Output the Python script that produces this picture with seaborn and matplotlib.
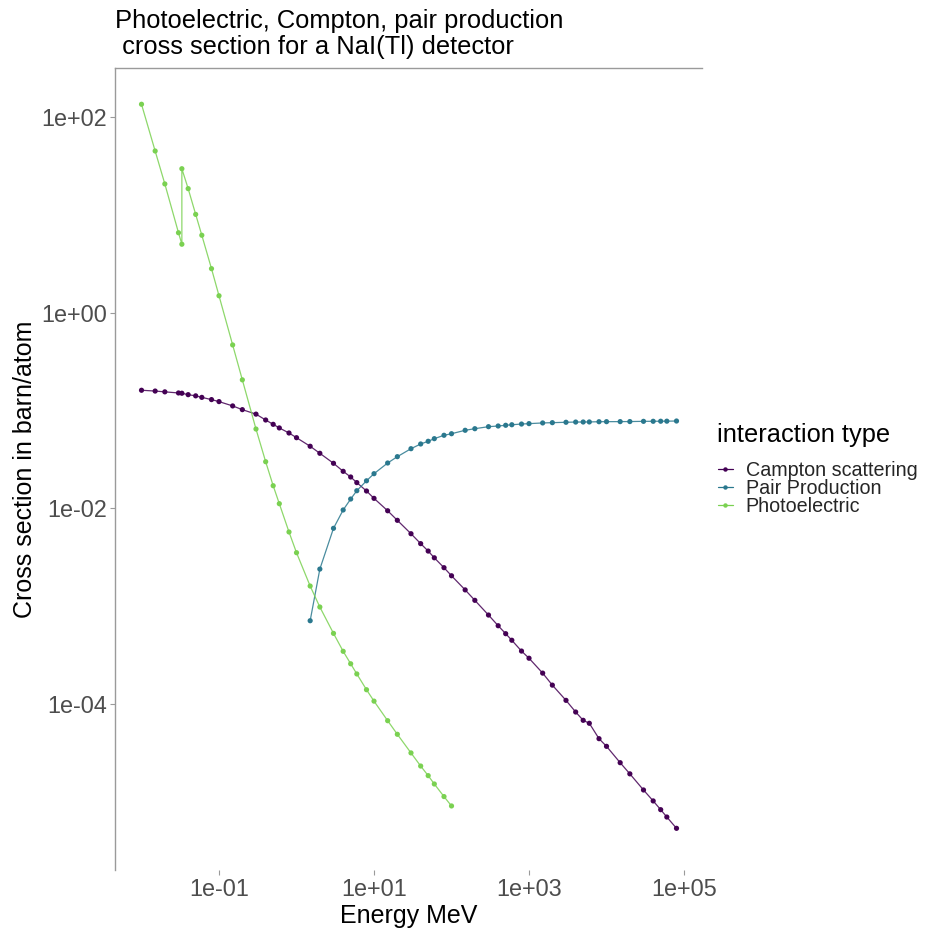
import numpy as np
import pandas as pd
import matplotlib
matplotlib.use("Agg")
import matplotlib.pyplot as plt
import seaborn as sns
from matplotlib.lines import Line2D
from matplotlib.ticker import NullLocator

# ---- data (energy in MeV, cross section) ----
photo_energy = [0.01, 0.015, 0.02, 0.03, 0.03317, 0.03317, 0.04, 0.05, 0.06, 0.08,
                0.1, 0.15, 0.2, 0.3, 0.4, 0.5, 0.6, 0.8, 1, 1.5, 2, 3, 4, 5, 6, 8,
                10, 15, 20, 30, 40, 50, 60, 80, 100]
photo_cross = [136.5, 45.4, 20.9, 6.62, 5.05, 29.9, 18.7, 10.2, 6.24, 2.84,
               1.50, 0.471, 0.207, 0.0650, 0.0301, 0.0171, 0.0112, 0.00575, 0.00353,
               0.00161, 0.000982, 0.000528, 0.000346, 0.000258, 0.000203, 0.000140,
               0.000107, 6.75e-5, 4.90e-5, 3.16e-5, 2.32e-5, 1.85e-5, 1.52e-5,
               1.13e-5, 9.06e-6]

compton_energy = [0.01, 0.015, 0.02, 0.03, 0.03317, 0.04, 0.05, 0.06, 0.08, 0.1,
                  0.15, 0.2, 0.3, 0.4, 0.5, 0.6, 0.8, 1, 1.5, 2, 3, 4, 5, 6, 8, 10,
                  15, 20, 30, 40, 50, 60, 80, 100, 150, 200, 300, 400, 500, 600, 800,
                  1000, 1500, 2000, 3000, 4000, 5000, 6000, 8000, 10000, 15000, 20000,
                  30000, 40000, 50000, 60000, 80000]
compton_cross = [0.162, 0.159, 0.156, 0.152, 0.151, 0.146, 0.142, 0.137, 0.130, 0.124,
                 0.112, 0.1026, 0.0923, 0.0804, 0.0726, 0.0667, 0.0592, 0.0530, 0.0433,
                 0.0367, 0.0290, 0.0240, 0.0210, 0.0184, 0.0151, 0.0127, 0.00948,
                 0.00757, 0.00552, 0.00437, 0.00367, 0.00313, 0.00248, 0.00205,
                 0.00147, 0.00115, 0.000813, 0.000632, 0.000524, 0.000449, 0.000348,
                 0.000294, 0.000207, 0.000156, 0.000109, 8.28e-5, 6.81e-5, 6.35e-5,
                 4.42e-5, 3.69e-5, 2.51e-5, 1.93e-5, 1.32e-5, 1.02e-5, 8.30e-6,
                 6.98e-6, 5.35e-6]

pair_energy = [1.5, 2, 3, 4, 5, 6, 8, 10, 15, 20, 30, 40, 50, 60, 80, 100, 150, 200,
               300, 400, 500, 600, 800, 1000, 1500, 2000, 3000, 4000, 5000, 6000, 8000,
               10000, 15000, 20000, 30000, 40000, 50000, 60000, 80000]
pair_cross = [7.11e-4, 2.40e-3, 6.27e-3, 9.66e-3, 0.0125, 0.0152, 0.0192, 0.0227,
              0.0292, 0.0339, 0.0409, 0.0457, 0.0487, 0.0518, 0.0561, 0.0582, 0.0631,
              0.0655, 0.0687, 0.0698, 0.0710, 0.0719, 0.0731, 0.0738, 0.0750, 0.0755,
              0.0762, 0.0766, 0.0767, 0.0768, 0.0772, 0.0773, 0.0774, 0.0775, 0.0779,
              0.0780, 0.0781, 0.0782, 0.0785]

types = ["Campton scattering", "Pair Production", "Photoelectric"]
colors = ["#440154", "#2A788E", "#7AD151"]

df = pd.concat([
    pd.DataFrame({"energy": compton_energy, "cross": compton_cross, "type": types[0]}),
    pd.DataFrame({"energy": pair_energy, "cross": pair_cross, "type": types[1]}),
    pd.DataFrame({"energy": photo_energy, "cross": photo_cross, "type": types[2]}),
], ignore_index=True)

sns.set_style("white")
plt.rcParams["font.family"] = ["Liberation Sans", "DejaVu Sans"]

W, H = 927, 931
fig = plt.figure(figsize=(W / 100, H / 100), dpi=100)
L, R, T, B = 115, 702, 68, 870
ax = fig.add_axes([L / W, 1 - B / H, (R - L) / W, (B - T) / H])

palette = dict(zip(types, colors))
sns.lineplot(data=df, x="energy", y="cross", hue="type", palette=palette,
             sort=False, estimator=None, lw=0.9, alpha=0.85, legend=False, ax=ax)
sns.scatterplot(data=df, x="energy", y="cross", hue="type", palette=palette,
                s=14, linewidth=0, legend=False, ax=ax, zorder=3)

ax.set_xscale("log")
ax.set_yscale("log")
ax.set_xlim(10 ** -2.342, 10 ** 5.232)
ax.set_ylim(10 ** -5.698, 10 ** 2.506)
ax.set_xticks([1e-1, 1e1, 1e3, 1e5])
ax.set_xticklabels(["1e-01", "1e+01", "1e+03", "1e+05"])
ax.set_yticks([1e-4, 1e-2, 1e0, 1e2])
ax.set_yticklabels(["1e-04", "1e-02", "1e+00", "1e+02"])
ax.xaxis.set_minor_locator(NullLocator())
ax.yaxis.set_minor_locator(NullLocator())

for s in ["right", "bottom"]:
    ax.spines[s].set_visible(False)
for s in ["left", "top"]:
    ax.spines[s].set_color("#9a9a9a")
    ax.spines[s].set_linewidth(1.0)

ax.tick_params(axis="both", which="major", bottom=True, left=True, length=3.5,
               width=0.8, color="#9a9a9a", labelcolor="#4D4D4D", labelsize=16.8,
               pad=2.5, direction="out")

ax.set_xlabel("Energy MeV", fontsize=18, color="black", labelpad=2)
ax.set_ylabel("Cross section in barn/atom", fontsize=18, color="black", labelpad=3)
ax.set_title("Photoelectric, Compton, pair production\n cross section for a NaI(Tl) detector",
             loc="left", fontsize=18.4, pad=10, color="black", linespacing=1.1)

# legend: title as separate text, entries below
fig.text(717 / W, 1 - 435 / H, "interaction type", fontsize=18.3, color="black",
         ha="left", va="center")
handles = [Line2D([0], [0], color=c, lw=0.9, marker="o", markersize=3.2,
                  markeredgewidth=0) for c in colors]
leg = fig.legend(handles, types, loc="upper left",
                 bbox_to_anchor=(718 / W, 1 - 461 / H), frameon=False, fontsize=14.2,
                 handlelength=0.75, handletextpad=0.65, labelspacing=-0.06,
                 borderpad=0, borderaxespad=0)

fig.savefig("out.png", dpi=100)
